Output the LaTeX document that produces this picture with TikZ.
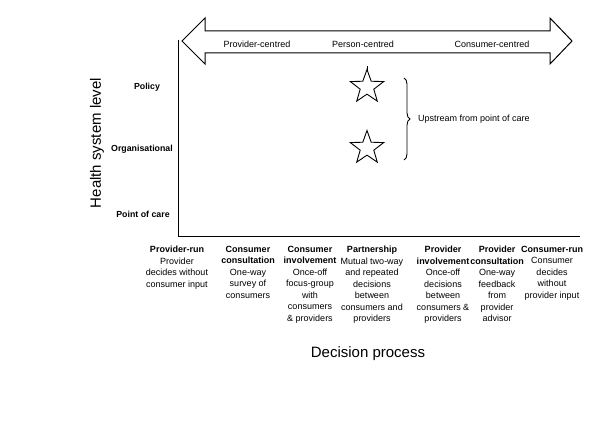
\documentclass[tikz,border=0pt]{standalone}
\usepackage{fontspec}
\setmainfont{Liberation Sans}
\usetikzlibrary{shapes.geometric,decorations.pathreplacing}
\tikzset{
  lbl/.style={inner sep=0pt, font=\fontsize{9}{11}\selectfont},
  lvl/.style={inner sep=0pt, font=\fontsize{8.8}{11}\selectfont\bfseries},
  col/.style={inner sep=0pt, anchor=north, align=center, font=\fontsize{9}{11.5}\selectfont},
  big/.style={inner sep=0pt, font=\fontsize{15}{18}\selectfont},
  starmark/.style={star, star points=5, star point ratio=2.45, minimum size=35pt, inner sep=0pt, draw=black, line width=0.9pt},
  axis/.style={line width=1pt, black},
}
\begin{document}
\begin{tikzpicture}[x=1pt, y=-1pt]
\useasboundingbox (0,0) rectangle (602,438);
% double arrow
\draw[line width=1pt, line join=miter] (182,41) -- (205,18) -- (205,31) -- (550,31) -- (550,18) -- (572,41) -- (550,64) -- (550,53) -- (205,53) -- (205,64) -- cycle;
\node[lbl] (pc) at (257,44) {Provider-centred};
\node[lbl] (pe) at (363,44) {Person-centred};
\node[lbl] (cc) at (492,44) {Consumer-centred};
\coordinate (tka) at (367,66);
\coordinate (tkb) at (367,70);
\draw[line width=0.8pt] (tka) -- (tkb);
% axes
\coordinate (top) at (178,40);
\coordinate (orig) at (178,237);
\coordinate (right) at (580,237);
\draw[axis] (top) -- (orig) -- (right);
% level labels
\node[lvl] (pol) at (147,87) {Policy};
\node[lvl] (org) at (142,149) {Organisational};
\node[lvl] (poc) at (143,214) {Point of care};
\node[big, rotate=90] (hsl) at (97,143) {Health system level};
% stars
\node[starmark] (s1) at (367,87) {};
\node[starmark] (s2) at (367,148) {};
% brace
\coordinate (bt) at (404,78);
\coordinate (bb) at (404,160);
\draw[line width=0.9pt, decorate, decoration={brace, amplitude=6pt}] (bt) -- (bb);
\node[lbl, anchor=west] (up) at (418,119) {Upstream from point of care};
% columns
\node[col] (c1) at (177,246) {\textbf{Provider-run}\\Provider\\decides without\\consumer input};
\node[col] (c2) at (248,246) {\textbf{Consumer}\\\textbf{consultation}\\One-way\\survey of\\consumers};
\node[col] (c3) at (310,246) {\textbf{Consumer}\\\textbf{involvement}\\Once-off\\focus-group\\with\\consumers\\\& providers};
\node[col] (c4) at (372,246) {\textbf{Partnership}\\Mutual two-way\\and repeated\\decisions\\between\\consumers and\\providers};
\node[col] (c5) at (443,246) {\textbf{Provider}\\\textbf{involvement}\\Once-off\\decisions\\between\\consumers \&\\providers};
\node[col] (c6) at (497,246) {\textbf{Provider}\\\textbf{consultation}\\One-way\\feedback\\from\\provider\\advisor};
\node[col] (c7) at (552,246) {\textbf{Consumer-run}\\Consumer\\decides\\without\\provider input};
\node[big] (dp) at (368,354) {Decision process};
\end{tikzpicture}
\end{document}
